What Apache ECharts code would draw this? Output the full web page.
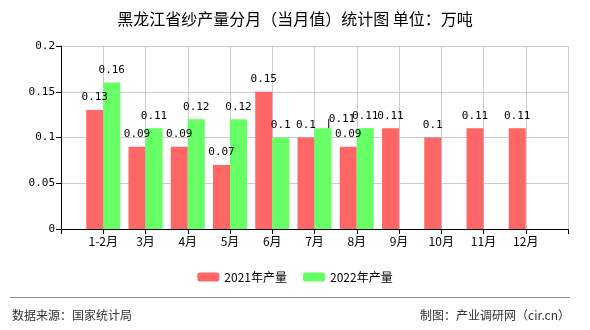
<!DOCTYPE html>
<html><head><meta charset="utf-8">
<script src="https://cdn.jsdelivr.net/npm/echarts@6/dist/echarts.min.js"></script>
<style>html,body{margin:0;padding:0;background:#fff}#c{width:590px;height:330px}</style>
</head><body><div id="c"></div>
<script>
const categories = ['1-2月','3月','4月','5月','6月','7月','8月','9月','10月','11月','12月'];
const prod2021 = [0.13,0.09,0.09,0.07,0.15,0.1,0.09,0.11,0.1,0.11,0.11];
const prod2022 = [0.16,0.11,0.12,0.12,0.1,0.11,0.11];
const yTickValues = [0,0.05,0.1,0.15,0.2];
const seriesNames = ['2021年产量','2022年产量'];
const titleText = '黑龙江省纱产量分月（当月值）统计图 单位：万吨';
const sourceText = '数据来源：国家统计局';
const makerText = '制图：产业调研网（cir.cn）';

const movedIndex = 5; // 7月 label of 2022 was pushed aside in the original
function pad(arr, moved){
  const out=[null];
  for(let i=0;i<categories.length;i++){
    const v = i<arr.length?arr[i]:null;
    if(i===moved && v!=null){
      out.push({value:v,labelLine:{show:true,lineStyle:{color:'#000',width:1}}});
    } else out.push(v);
  }
  out.push(null);
  return out;
}
const xData=[''].concat(categories).concat(['']);
const mono='"DejaVu Sans Mono", monospace';
const cjk='"Noto Sans CJK SC", sans-serif';
const chart=echarts.init(document.getElementById('c'));
const labelCfg={show:true,position:'top',distance:7,color:'#000',fontFamily:mono,fontSize:11,
  formatter:p=>String(p.value)};
chart.setOption({
  animation:false,
  backgroundColor:'#fff',
  title:{text:titleText,left:'center',top:6,textStyle:{fontFamily:cjk,fontSize:16,fontWeight:'normal',color:'#000'}},
  legend:{data:seriesNames,top:266,left:'center',itemWidth:22,itemHeight:9,itemGap:16,
    textStyle:{fontFamily:cjk,fontSize:12,color:'#000'}},
  grid:{left:61,right:22,top:46,bottom:101},
  xAxis:{type:'category',data:xData,boundaryGap:false,
    axisLine:{lineStyle:{color:'#000'}},
    axisTick:{show:true,interval:0,length:5,lineStyle:{color:'#000'}},
    axisLabel:{interval:0,color:'#000',fontFamily:cjk,fontSize:12,margin:6},
    splitLine:{show:true,interval:0,lineStyle:{color:'#ccc'}}},
  yAxis:{type:'value',min:yTickValues[0],max:yTickValues[yTickValues.length-1],interval:0.05,
    axisLine:{show:true,lineStyle:{color:'#000'}},
    axisTick:{show:true,length:5,lineStyle:{color:'#000'}},
    axisLabel:{color:'#000',fontFamily:mono,fontSize:11,margin:6},
    splitLine:{lineStyle:{color:'#ccc'}}},
  series:[
    {name:seriesNames[0],type:'bar',data:pad(prod2021,-1),barWidth:17,barGap:'0%',
      itemStyle:{color:'#ff6666'},label:labelCfg},
    {name:seriesNames[1],type:'bar',data:pad(prod2022,movedIndex),barWidth:17,barGap:'0%',
      itemStyle:{color:'#66ff66'},label:labelCfg,
      labelLayout:function(p){ if(p.dataIndex===movedIndex+1) return {dx:19,dy:3}; return {}; }}
  ],
  graphic:[
    {type:'line',shape:{x1:10,y1:297.5,x2:570,y2:297.5},style:{stroke:'#888',lineWidth:1}},
    {type:'text',left:12,top:309,style:{text:sourceText,font:'12px "Noto Sans CJK SC"',fill:'#333'}},
    {type:'text',right:20,top:309,style:{text:makerText,font:'12px "Noto Sans CJK SC"',fill:'#333'}}
  ]
});
</script></body></html>
